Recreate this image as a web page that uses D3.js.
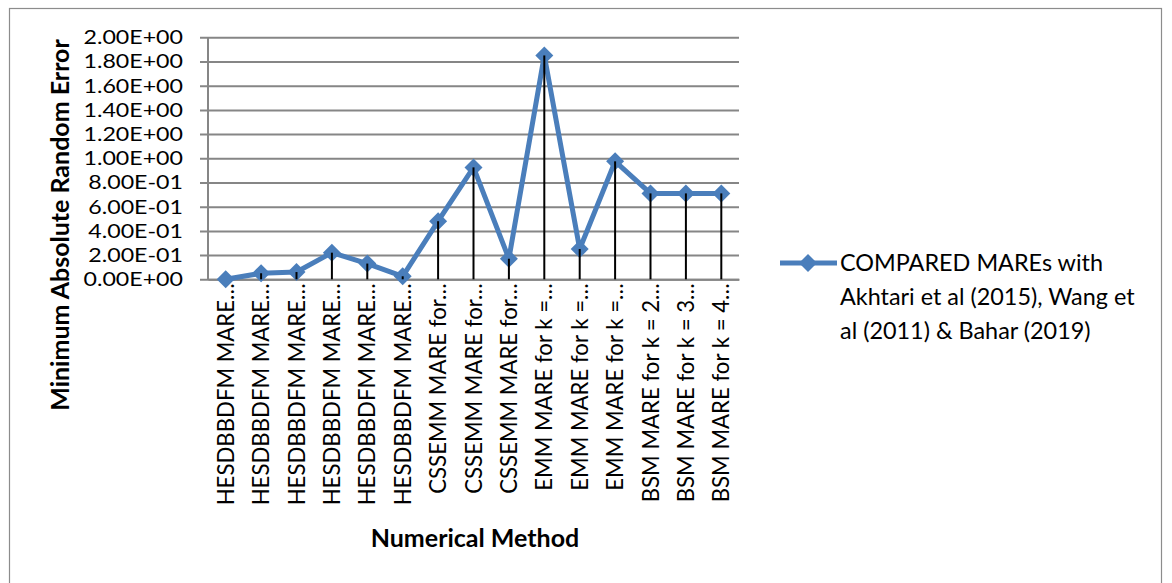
<!DOCTYPE html>
<html>
<head>
<meta charset="utf-8">
<script src="https://cdn.jsdelivr.net/npm/d3@7"></script>
<style>
  html, body { margin: 0; padding: 0; background: #fff; }
  svg { display: block; font-family: Lato, "Open Sans", sans-serif; }
</style>
</head>
<body>
<svg id="chart" width="1172" height="583"></svg>
<script>
// Numerical methods compared (labels as truncated on the category axis)
const categories = [
  "HESDBBDFM MARE…", "HESDBBDFM MARE…", "HESDBBDFM MARE…",
  "HESDBBDFM MARE…", "HESDBBDFM MARE…", "HESDBBDFM MARE…",
  "CSSEMM MARE for…", "CSSEMM MARE for…", "CSSEMM MARE for…",
  "EMM MARE for k =…", "EMM MARE for k =…", "EMM MARE for k =…",
  "BSM MARE for k = 2…", "BSM MARE for k = 3…", "BSM MARE for k = 4…"
];

// Minimum absolute random error per method
const mareValues = [
  0.0, 0.05, 0.06, 0.22, 0.13, 0.025,
  0.48, 0.925, 0.17,
  1.85, 0.25, 0.975,
  0.71, 0.71, 0.71
];

const yTickValues = [0, 0.2, 0.4, 0.6, 0.8, 1.0, 1.2, 1.4, 1.6, 1.8, 2.0];
const yTickLabels = [
  "0.00E+00", "2.00E-01", "4.00E-01", "6.00E-01", "8.00E-01", "1.00E+00",
  "1.20E+00", "1.40E+00", "1.60E+00", "1.80E+00", "2.00E+00"
];

const seriesName = ["COMPARED MAREs with", "Akhtari et al (2015), Wang et", "al (2011) & Bahar (2019)"];
const yTitle = "Minimum Absolute Random Error";
const xTitle = "Numerical Method";

const svg = d3.select("#chart");
const plot = { left: 208, right: 739, top: 37.3, bottom: 279.3 };
const blue = "#4a7ebb";
const grid = "#868686";

// outer chart frame
svg.append("rect")
  .attr("x", 9.5).attr("y", 8.5)
  .attr("width", 1152).attr("height", 620)
  .attr("fill", "none").attr("stroke", "#8c8c8c").attr("stroke-width", 1.2);

const x = d3.scaleBand()
  .domain(d3.range(categories.length))
  .range([plot.left, plot.right])
  .paddingInner(0).paddingOuter(0);
const cx = i => x(i) + x.bandwidth() / 2;

const y = d3.scaleLinear().domain([0, 2]).range([plot.bottom, plot.top]);

// horizontal gridlines with outward ticks
const yAxis = d3.axisLeft(y)
  .tickValues(yTickValues)
  .tickFormat((d, i) => yTickLabels[i])
  .tickSize(-(plot.right - plot.left))
  .tickPadding(25);

const gy = svg.append("g")
  .attr("transform", `translate(${plot.left},0)`)
  .call(yAxis);
gy.select(".domain").remove();
gy.selectAll(".tick line")
  .attr("x1", -8)
  .attr("stroke", grid).attr("stroke-width", 2);
// tick labels: compact line box, widened glyphs
const tickStretch = 1.16;
gy.selectAll(".tick text")
  .attr("fill", "#000")
  .style("font-size", "20px")
  .style("font-family", "Lato, sans-serif")
  .attr("x", -25 / tickStretch)
  .attr("transform", `scale(${tickStretch},1)`);

// vertical axis line
svg.append("line")
  .attr("x1", plot.left).attr("x2", plot.left)
  .attr("y1", plot.top).attr("y2", plot.bottom)
  .attr("stroke", grid).attr("stroke-width", 2);

// category axis labels, rotated
const gx = svg.append("g")
  .attr("transform", `translate(0,${plot.bottom})`)
  .call(d3.axisBottom(x).tickFormat(i => categories[i]).tickSize(0).tickPadding(0));
gx.select(".domain")
  .attr("stroke", grid).attr("stroke-width", 2);
gx.selectAll(".tick text")
  .attr("fill", "#000")
  .style("font-size", "22.2px")
  .style("font-family", "Lato, sans-serif")
  .attr("text-anchor", "end")
  .attr("transform", "rotate(-90)")
  .attr("x", -4)
  .attr("y", 0)
  .attr("dy", "0.36em");

// series line
const line = d3.line()
  .x((d, i) => cx(i))
  .y(d => y(d));

svg.append("path")
  .datum(mareValues)
  .attr("fill", "none")
  .attr("stroke", blue)
  .attr("stroke-width", 5)
  .attr("stroke-linejoin", "round")
  .attr("d", line);

// diamond markers
const diamond = (px, py, r) => `M${px},${py - r}L${px + r},${py}L${px},${py + r}L${px - r},${py}Z`;
svg.append("g").selectAll("path")
  .data(mareValues)
  .join("path")
  .attr("d", (d, i) => diamond(cx(i), y(d), 9))
  .attr("fill", blue);

// drop lines from each point to the category axis
svg.append("g").selectAll("line")
  .data(mareValues)
  .join("line")
  .attr("x1", (d, i) => cx(i)).attr("x2", (d, i) => cx(i))
  .attr("y1", d => y(d)).attr("y2", y(0))
  .attr("stroke", "#000").attr("stroke-width", 2);

// axis titles
svg.append("text")
  .attr("transform", `translate(60,225) rotate(-90)`)
  .attr("text-anchor", "middle")
  .attr("dy", "0.35em")
  .style("font-size", "25px")
  .style("font-weight", "bold")
  .text(yTitle);

svg.append("text")
  .attr("x", 475).attr("y", 538)
  .attr("text-anchor", "middle")
  .attr("dy", "0.35em")
  .style("font-size", "25px")
  .style("font-weight", "bold")
  .text(xTitle);

// legend
const lg = svg.append("g");
lg.append("line")
  .attr("x1", 780).attr("x2", 837)
  .attr("y1", 263).attr("y2", 263)
  .attr("stroke", blue).attr("stroke-width", 5);
lg.append("path")
  .attr("d", diamond(808, 263, 9))
  .attr("fill", blue);
lg.selectAll("text.leg")
  .data(seriesName)
  .join("text")
  .attr("class", "leg")
  .attr("x", 840)
  .attr("y", (d, i) => 263 + i * 34)
  .attr("dy", "0.35em")
  .style("font-size", "23.4px")
  .text(d => d);
</script>
</body>
</html>
